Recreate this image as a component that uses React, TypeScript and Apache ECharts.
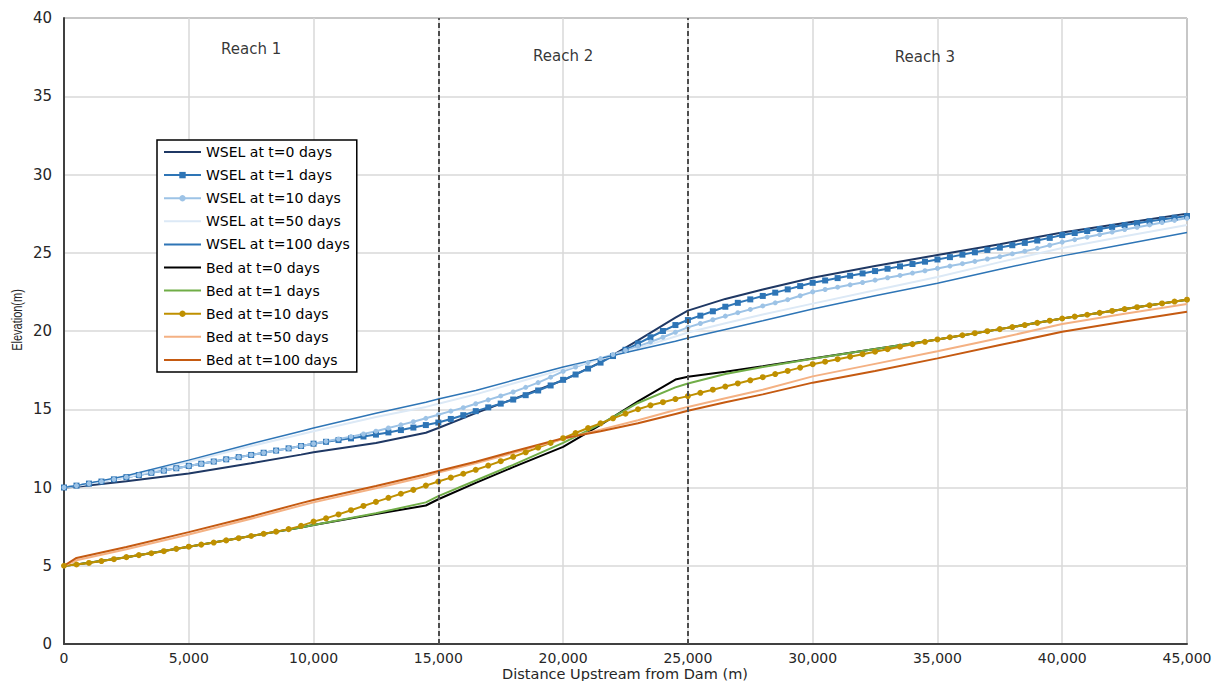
import React, { useEffect, useRef } from "react";
import * as echarts from "echarts";

// Stations (m upstream from dam)
const distFine = [
  0, 500, 1000, 1500, 2000, 2500, 3000, 3500, 4000, 4500, 5000,
  5500, 6000, 6500, 7000, 7500, 8000, 8500, 9000, 9500, 10000,
  10500, 11000, 11500, 12000, 12500, 13000, 13500, 14000, 14500, 15000,
  15500, 16000, 16500, 17000, 17500, 18000, 18500, 19000, 19500, 20000,
  20500, 21000, 21500, 22000, 22500, 23000, 23500, 24000, 24500, 25000,
  25500, 26000, 26500, 27000, 27500, 28000, 28500, 29000, 29500, 30000,
  30500, 31000, 31500, 32000, 32500, 33000, 33500, 34000, 34500, 35000,
  35500, 36000, 36500, 37000, 37500, 38000, 38500, 39000, 39500, 40000,
  40500, 41000, 41500, 42000, 42500, 43000, 43500, 44000, 44500, 45000,
];
const distCoarse = [
  0, 500, 2500, 5000, 7500, 9500, 10000, 12500, 14500, 15000, 16500, 18000, 20000,
  21500, 23000, 24500, 25000, 26500, 28000, 30000, 32500, 35000, 37500, 40000, 42500, 45000,
];

// Water surface elevations (m)
const wselT0 = [10.0, 10.05, 10.4, 10.9, 11.55, 12.1, 12.25, 12.85, 13.5, 13.8, 14.75, 15.65, 16.85,
  18.0, 19.4, 20.85, 21.3, 22.05, 22.65, 23.4, 24.15, 24.85, 25.55, 26.3, 26.9, 27.5];
const wselT1 = [
  10.0, 10.12, 10.25, 10.38, 10.52, 10.66, 10.8, 10.94, 11.08, 11.23, 11.38,
  11.52, 11.66, 11.8, 11.94, 12.08, 12.22, 12.36, 12.5, 12.65, 12.8,
  12.92, 13.03, 13.14, 13.26, 13.38, 13.52, 13.67, 13.83, 13.99, 14.15,
  14.38, 14.62, 14.88, 15.12, 15.36, 15.62, 15.9, 16.2, 16.52, 16.88,
  17.22, 17.6, 17.98, 18.4, 18.8, 19.2, 19.6, 20.0, 20.38, 20.7,
  20.98, 21.26, 21.55, 21.8, 22.02, 22.24, 22.45, 22.66, 22.87, 23.08,
  23.23, 23.38, 23.53, 23.68, 23.83, 23.98, 24.13, 24.28, 24.43, 24.57,
  24.72, 24.88, 25.03, 25.18, 25.33, 25.48, 25.63, 25.78, 25.95, 26.13,
  26.26, 26.39, 26.52, 26.65, 26.77, 26.89, 27.01, 27.13, 27.24, 27.35,
];
const wselT10 = [
  10.0, 10.12, 10.25, 10.38, 10.52, 10.66, 10.8, 10.94, 11.08, 11.23, 11.38,
  11.52, 11.66, 11.8, 11.94, 12.08, 12.22, 12.36, 12.5, 12.65, 12.8,
  12.95, 13.1, 13.25, 13.42, 13.6, 13.8, 14.0, 14.2, 14.42, 14.65,
  14.88, 15.1, 15.35, 15.6, 15.85, 16.1, 16.4, 16.7, 17.05, 17.42,
  17.7, 17.98, 18.24, 18.5, 18.76, 19.02, 19.3, 19.6, 19.92, 20.23,
  20.48, 20.72, 20.95, 21.17, 21.38, 21.6, 21.8, 22.0, 22.25, 22.5,
  22.65, 22.8, 22.95, 23.1, 23.25, 23.4, 23.55, 23.7, 23.85, 24.0,
  24.15, 24.3, 24.45, 24.6, 24.75, 24.93, 25.1, 25.28, 25.48, 25.68,
  25.84, 26.0, 26.16, 26.32, 26.48, 26.63, 26.78, 26.93, 27.07, 27.2,
];
const wselT50 = [10.0, 10.1, 10.65, 11.65, 12.65, 13.4, 13.6, 14.5, 15.15, 15.35, 15.95, 16.65, 17.55,
  18.2, 18.9, 19.65, 19.9, 20.5, 21.05, 21.75, 22.6, 23.45, 24.4, 25.3, 26.05, 26.77];
const wselT100 = [10.0, 10.12, 10.75, 11.75, 12.8, 13.6, 13.8, 14.75, 15.45, 15.65, 16.2, 16.85, 17.7,
  18.25, 18.8, 19.35, 19.55, 20.1, 20.65, 21.4, 22.25, 23.05, 23.95, 24.8, 25.55, 26.3];

// Bed elevations (m)
const bedT0 = [5.0, 5.08, 5.55, 6.22, 6.9, 7.45, 7.6, 8.3, 8.85, 9.25, 10.3, 11.3, 12.6,
  14.0, 15.5, 16.9, 17.08, 17.4, 17.75, 18.25, 18.85, 19.46, 20.12, 20.8, 21.4, 22.0];
const bedT1 = [5.0, 5.08, 5.55, 6.22, 6.9, 7.45, 7.6, 8.35, 9.05, 9.45, 10.45, 11.45, 12.85,
  14.05, 15.4, 16.4, 16.65, 17.25, 17.7, 18.22, 18.85, 19.46, 20.12, 20.8, 21.4, 22.0];
const bedT10 = [
  5.0, 5.08, 5.18, 5.3, 5.42, 5.55, 5.68, 5.8, 5.93, 6.08, 6.22,
  6.35, 6.48, 6.62, 6.76, 6.9, 7.04, 7.18, 7.34, 7.55, 7.82,
  8.03, 8.28, 8.55, 8.82, 9.08, 9.34, 9.6, 9.85, 10.12, 10.38,
  10.63, 10.88, 11.13, 11.4, 11.68, 11.96, 12.25, 12.55, 12.85, 13.15,
  13.48, 13.8, 14.1, 14.42, 14.72, 15.0, 15.25, 15.45, 15.65, 15.84,
  16.05, 16.25, 16.45, 16.65, 16.85, 17.05, 17.25, 17.45, 17.66, 17.88,
  18.04, 18.2, 18.36, 18.52, 18.68, 18.84, 19.0, 19.16, 19.31, 19.46,
  19.6, 19.73, 19.86, 19.99, 20.12, 20.25, 20.38, 20.52, 20.66, 20.8,
  20.92, 21.04, 21.16, 21.28, 21.4, 21.52, 21.64, 21.76, 21.88, 22.0,
];
const bedT50 = [5.0, 5.35, 6.05, 7.0, 8.0, 8.85, 9.05, 9.95, 10.7, 10.95, 11.55, 12.2, 13.1,
  13.7, 14.3, 14.95, 15.15, 15.7, 16.25, 17.1, 17.9, 18.7, 19.55, 20.45, 21.1, 21.72];
const bedT100 = [5.0, 5.5, 6.2, 7.15, 8.15, 9.0, 9.2, 10.1, 10.85, 11.05, 11.65, 12.3, 13.15,
  13.6, 14.1, 14.7, 14.9, 15.45, 15.95, 16.7, 17.45, 18.25, 19.1, 19.95, 20.6, 21.23];

// Reach boundaries and labels
const reachBounds = [15000, 25000];
const reachNames = ["Reach 1", "Reach 2", "Reach 3"];
const reachLabelX = [7500, 20000, 34500];
const reachLabelY = [38.0, 37.6, 37.5];

const FONT = "DejaVu Sans";

function pairs(xs: number[], ys: number[]) {
  return xs.map((x, i) => [x, ys[i]]);
}

export default function App() {
  const ref = useRef<HTMLDivElement>(null);
  useEffect(() => {
    document.body.style.margin = "0";
    const chart = echarts.init(ref.current!, undefined, { renderer: "svg" });

    const lineS = (name: string, xs: number[], ys: number[], color: string, width: number, symbol: string, size: number, extra: any = {}) => ({
      name,
      type: "line",
      data: pairs(xs, ys),
      symbol,
      symbolSize: size,
      showSymbol: symbol !== "none",
      lineStyle: { color, width },
      itemStyle: { color },
      emphasis: { disabled: true },
      ...extra,
    });

    const names = [
      "WSEL at t=0 days", "WSEL at t=1 days", "WSEL at t=10 days", "WSEL at t=50 days", "WSEL at t=100 days",
      "Bed at t=0 days", "Bed at t=1 days", "Bed at t=10 days", "Bed at t=50 days", "Bed at t=100 days",
    ];
    const hasMarker = [false, true, true, false, false, false, false, true, false, false];

    const series: any[] = [
      lineS(names[0], distCoarse, wselT0, "#1F3864", 2, "none", 0, {
        markLine: {
          silent: true,
          symbol: ["none", "none"],
          label: { show: false },
          lineStyle: { color: "#4D4D4D", width: 2, type: [5, 3] },
          data: reachBounds.map((b) => ({ xAxis: b })),
        },
      }),
      lineS(names[1], distFine, wselT1, "#2E75B6", 2, "rect", 6),
      lineS(names[2], distFine, wselT10, "#9DC3E6", 2, "circle", 5),
      lineS(names[3], distCoarse, wselT50, "#DCE9F6", 2, "none", 0),
      lineS(names[4], distCoarse, wselT100, "#2E75B6", 1.5, "none", 0),
      lineS(names[5], distCoarse, bedT0, "#000000", 2, "none", 0),
      lineS(names[6], distCoarse, bedT1, "#70AD47", 2, "none", 0),
      lineS(names[7], distFine, bedT10, "#BF9000", 2, "circle", 6),
      lineS(names[8], distCoarse, bedT50, "#F4B183", 2, "none", 0),
      lineS(names[9], distCoarse, bedT100, "#C55A11", 2, "none", 0),
      {
        name: "reaches",
        type: "scatter",
        silent: true,
        symbol: "circle",
        symbolSize: 1,
        itemStyle: { color: "rgba(0,0,0,0)" },
        data: reachNames.map((n, i) => ({ name: n, value: [reachLabelX[i], reachLabelY[i]] })),
        label: {
          show: true,
          position: "inside",
          formatter: (p: any) => p.name,
          color: "#000",
          fontFamily: FONT,
          fontSize: 15,
        },
      },
    ];

    chart.setOption({
      animation: false,
      backgroundColor: "#fff",
      grid: {
        left: 64, right: 31, top: 18, bottom: 37,
        show: true, borderColor: "#262626", borderWidth: 1,
        outerBoundsMode: "none",
        containLabel: false,
      },
      graphic: [
        {
          type: "text",
          x: 17,
          y: 320,
          rotation: Math.PI / 2,
          scaleY: 1.3,
          style: {
            text: "Elevation(m)",
            fontFamily: "Liberation Sans",
            fontSize: 11,
            fill: "#262626",
            textAlign: "center",
            textVerticalAlign: "middle",
          },
        },
        {
          type: "text",
          x: 625,
          y: 674,
          style: {
            text: "Distance Upstream from Dam (m)",
            fontFamily: FONT,
            fontSize: 14.5,
            fill: "#262626",
            textAlign: "center",
            textVerticalAlign: "middle",
          },
        },
      ],
      legend: {
        data: names.map((n, i) => (hasMarker[i] ? { name: n } : { name: n, itemStyle: { opacity: 0 } })),
        orient: "vertical",
        left: 157,
        top: 140,
        itemWidth: 37,
        itemHeight: 8,
        itemGap: 9.1,
        padding: [5, 7, 5, 6],
        borderColor: "#000",
        borderWidth: 1.5,
        backgroundColor: "#fff",
        textStyle: { fontFamily: FONT, fontSize: 14, color: "#000" },
        selectedMode: false,
      },
      xAxis: {
        type: "value",
        min: 0,
        max: 45000,
        interval: 5000,
        axisLine: { show: true, lineStyle: { color: "#404040", width: 2 } },
        axisTick: { show: false },
        axisLabel: {
          fontFamily: FONT, fontSize: 14, color: "#262626", margin: 7,
          formatter: (v: number) => v.toLocaleString("en-US"),
        },
        splitLine: { show: true, lineStyle: { color: "#D9D9D9", width: 1.5 } },
      },
      yAxis: {
        type: "value",
        min: 0,
        max: 40,
        interval: 5,
        axisLine: { show: true, lineStyle: { color: "#404040", width: 2 } },
        axisTick: { show: false },
        axisLabel: { fontFamily: FONT, fontSize: 15, color: "#262626", margin: 12 },
        splitLine: { show: true, lineStyle: { color: "#D9D9D9", width: 1.5 } },
      },
      series,
    });
    return () => chart.dispose();
  }, []);
  return <div ref={ref} style={{ width: 1218, height: 681 }} />;
}
